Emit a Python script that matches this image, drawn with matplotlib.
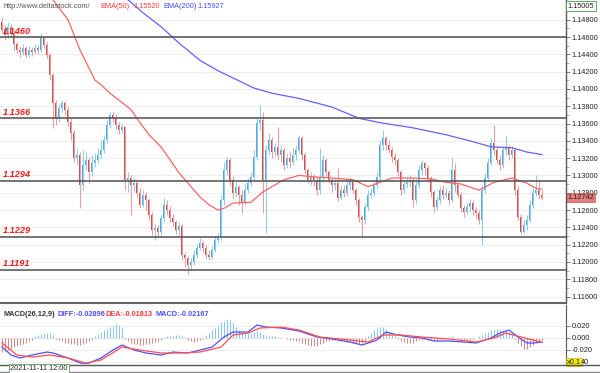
import numpy as np
import matplotlib.pyplot as plt
from matplotlib.lines import Line2D
from matplotlib.ticker import MultipleLocator
from matplotlib.transforms import blended_transform_factory

plt.rcParams['font.family'] = ['Liberation Sans', 'DejaVu Sans']

# EURUSD hourly candles (open = previous close)
first_open = 1.1477
closes = [
    1.1468, 1.1462, 1.1472, 1.1465, 1.1452, 1.1445, 1.1443, 1.1447, 1.1439, 1.1445,
    1.1443, 1.1447, 1.1445, 1.1459, 1.1451, 1.1439, 1.1416, 1.1384, 1.1366, 1.1378,
    1.1384, 1.1376, 1.1362, 1.1349, 1.1320, 1.1324, 1.1289, 1.1312, 1.1318, 1.1304,
    1.1314, 1.1318, 1.1324, 1.1329, 1.1341, 1.1358, 1.1370, 1.1366, 1.1358, 1.1353,
    1.1356, 1.1295, 1.1297, 1.1289, 1.1291, 1.1280, 1.1266, 1.1277, 1.1272, 1.1254,
    1.1237, 1.1239, 1.1235, 1.1251, 1.1266, 1.1260, 1.1251, 1.1246, 1.1237, 1.1242,
    1.1208, 1.1205, 1.1196, 1.1200, 1.1208, 1.1216, 1.1222, 1.1216, 1.1208, 1.1206,
    1.1214, 1.1225, 1.1229, 1.1272, 1.1306, 1.1318, 1.1295, 1.1280, 1.1287, 1.1277,
    1.1268, 1.1283, 1.1291, 1.1298, 1.1321, 1.1361, 1.1364, 1.1295, 1.1329, 1.1341,
    1.1327, 1.1333, 1.1324, 1.1329, 1.1312, 1.1320, 1.1316, 1.1324, 1.1329, 1.1343,
    1.1324, 1.1306, 1.1295, 1.1298, 1.1295, 1.1283, 1.1297, 1.1318, 1.1304, 1.1295,
    1.1289, 1.1291, 1.1274, 1.1283, 1.1280, 1.1289, 1.1292, 1.1283, 1.1272, 1.1252,
    1.1249, 1.1264, 1.1277, 1.1280, 1.1289, 1.1298, 1.1335, 1.1343, 1.1335, 1.1329,
    1.1321, 1.1318, 1.1304, 1.1283, 1.1290, 1.1292, 1.1295, 1.1272, 1.1289, 1.1306,
    1.1314, 1.1309, 1.1297, 1.1281, 1.1264, 1.1272, 1.1283, 1.1277, 1.1280, 1.1272,
    1.1306, 1.1289, 1.1277, 1.1262, 1.1258, 1.1264, 1.1268, 1.1260, 1.1257, 1.1249,
    1.1283, 1.1297, 1.1314, 1.1338, 1.1329, 1.1318, 1.1312, 1.1329, 1.1332, 1.1324,
    1.1329, 1.1283, 1.1252, 1.1235, 1.1243, 1.1249, 1.1266, 1.1280, 1.1283, 1.1277,
    1.12742,
]
highs = [
    1.1483, 1.1474, 1.1477, 1.1475, 1.1468, 1.1454, 1.1450, 1.1452, 1.1450, 1.1450,
    1.1448, 1.1452, 1.1451, 1.1465, 1.1461, 1.1454, 1.1442, 1.1418, 1.1387, 1.1383,
    1.1387, 1.1386, 1.1380, 1.1366, 1.1353, 1.1332, 1.1327, 1.1329, 1.1327, 1.1321,
    1.1324, 1.1326, 1.1332, 1.1341, 1.1347, 1.1364, 1.1373, 1.1373, 1.1371, 1.1362,
    1.1360, 1.1357, 1.1304, 1.1300, 1.1297, 1.1295, 1.1286, 1.1283, 1.1281, 1.1274,
    1.1258, 1.1244, 1.1243, 1.1254, 1.1274, 1.1272, 1.1265, 1.1255, 1.1249, 1.1246,
    1.1244, 1.1212, 1.1207, 1.1205, 1.1214, 1.1221, 1.1228, 1.1225, 1.1220, 1.1214,
    1.1218, 1.1230, 1.1234, 1.1277, 1.1316, 1.1321, 1.1320, 1.1299, 1.1292, 1.1289,
    1.1283, 1.1290, 1.1297, 1.1304, 1.1329, 1.1366, 1.1381, 1.1373, 1.1335, 1.1349,
    1.1344, 1.1338, 1.1356, 1.1335, 1.1332, 1.1326, 1.1327, 1.1332, 1.1335, 1.1347,
    1.1346, 1.1327, 1.1309, 1.1304, 1.1302, 1.1299, 1.1332, 1.1324, 1.1320, 1.1306,
    1.1297, 1.1297, 1.1309, 1.1288, 1.1289, 1.1295, 1.1298, 1.1295, 1.1286, 1.1274,
    1.1254, 1.1268, 1.1283, 1.1286, 1.1295, 1.1304, 1.1341, 1.1353, 1.1346, 1.1341,
    1.1333, 1.1326, 1.1320, 1.1306, 1.1295, 1.1298, 1.1300, 1.1297, 1.1295, 1.1312,
    1.1318, 1.1316, 1.1312, 1.1299, 1.1283, 1.1276, 1.1288, 1.1289, 1.1286, 1.1283,
    1.1320, 1.1314, 1.1292, 1.1281, 1.1266, 1.1268, 1.1273, 1.1272, 1.1264, 1.1260,
    1.1289, 1.1303, 1.1320, 1.1343, 1.1358, 1.1334, 1.1324, 1.1334, 1.1347, 1.1335,
    1.1334, 1.1332, 1.1288, 1.1255, 1.1249, 1.1254, 1.1272, 1.1286, 1.1300, 1.1295,
    1.1283,
]
lows = [
    1.1465, 1.1457, 1.1459, 1.1461, 1.1445, 1.1442, 1.1437, 1.1439, 1.1436, 1.1437,
    1.1438, 1.1440, 1.1440, 1.1443, 1.1447, 1.1436, 1.1410, 1.1355, 1.1358, 1.1362,
    1.1373, 1.1370, 1.1357, 1.1341, 1.1316, 1.1312, 1.1262, 1.1283, 1.1306, 1.1291,
    1.1299, 1.1310, 1.1314, 1.1320, 1.1326, 1.1338, 1.1355, 1.1362, 1.1354, 1.1348,
    1.1349, 1.1283, 1.1281, 1.1254, 1.1281, 1.1275, 1.1262, 1.1264, 1.1260, 1.1249,
    1.1231, 1.1225, 1.1230, 1.1231, 1.1246, 1.1254, 1.1246, 1.1242, 1.1232, 1.1231,
    1.1202, 1.1194, 1.1186, 1.1191, 1.1196, 1.1205, 1.1214, 1.1212, 1.1205, 1.1202,
    1.1203, 1.1212, 1.1222, 1.1225, 1.1266, 1.1300, 1.1289, 1.1274, 1.1275, 1.1266,
    1.1257, 1.1266, 1.1280, 1.1288, 1.1295, 1.1318, 1.1353, 1.1257, 1.1234, 1.1324,
    1.1320, 1.1322, 1.1318, 1.1316, 1.1306, 1.1309, 1.1309, 1.1312, 1.1318, 1.1326,
    1.1318, 1.1303, 1.1291, 1.1289, 1.1288, 1.1277, 1.1279, 1.1292, 1.1299, 1.1291,
    1.1281, 1.1283, 1.1270, 1.1272, 1.1275, 1.1276, 1.1283, 1.1280, 1.1266, 1.1246,
    1.1228, 1.1244, 1.1260, 1.1274, 1.1276, 1.1286, 1.1295, 1.1329, 1.1329, 1.1326,
    1.1316, 1.1312, 1.1299, 1.1277, 1.1280, 1.1286, 1.1287, 1.1264, 1.1267, 1.1286,
    1.1300, 1.1300, 1.1292, 1.1275, 1.1258, 1.1260, 1.1267, 1.1273, 1.1274, 1.1267,
    1.1269, 1.1281, 1.1274, 1.1258, 1.1252, 1.1255, 1.1258, 1.1254, 1.1251, 1.1244,
    1.1220, 1.1280, 1.1295, 1.1312, 1.1324, 1.1313, 1.1306, 1.1309, 1.1324, 1.1318,
    1.1320, 1.1277, 1.1249, 1.1232, 1.1234, 1.1237, 1.1246, 1.1262, 1.1276, 1.1273,
    1.1272,
]

# moving averages, read at a number of candles
ema50_x = [0, 17, 22, 26, 31, 33, 36, 39, 43, 46, 49, 53, 56, 59, 63, 66, 69, 72, 74,
           77, 83, 87, 94, 99, 105, 110, 117, 122, 126, 130, 137, 143, 148, 153, 159,
           164, 170, 175, 178, 180]
ema50_y = [1.1552, 1.1503, 1.1480, 1.1445, 1.1410, 1.1405, 1.1395, 1.1387, 1.1376,
           1.1361, 1.1347, 1.1333, 1.1318, 1.1303, 1.1287, 1.1275, 1.1266, 1.1260,
           1.1262, 1.1268, 1.1269, 1.1281, 1.1295, 1.1300, 1.1298, 1.1297, 1.1295,
           1.1287, 1.1292, 1.1297, 1.1297, 1.1296, 1.1292, 1.1290, 1.1283, 1.1292,
           1.1297, 1.1291, 1.1285, 1.1284]
ema200_x = [0, 42, 47, 53, 59, 66, 72, 78, 84, 90, 99, 110, 119, 126, 137, 148, 157,
            163, 170, 175, 180]
ema200_y = [1.1593, 1.1503, 1.1488, 1.1472, 1.1453, 1.1433, 1.1421, 1.1411, 1.1401,
            1.1395, 1.1389, 1.1379, 1.1366, 1.1361, 1.1355, 1.1347, 1.1339, 1.1333,
            1.1332, 1.1327, 1.1324]

levels = [1.1460, 1.1366, 1.1294, 1.1229, 1.1191]

# MACD panel
diff_x = [0, 3, 6, 10, 15, 17, 22, 27, 29, 33, 37, 40, 44, 48, 53, 57, 62, 66, 70, 74,
          77, 82, 85, 88, 93, 97, 99, 105, 110, 116, 120, 125, 128, 132, 136, 140, 144,
          149, 154, 158, 163, 166, 169, 172, 175, 177, 180]
diff_y = [-0.0148, -0.0284, -0.0333, -0.0284, -0.0235, -0.0251, -0.0333, -0.0431,
          -0.0415, -0.0333, -0.0202, -0.0120, -0.0202, -0.0251, -0.0284, -0.0235,
          -0.0251, -0.0202, -0.0153, 0.0011, 0.0093, 0.0093, 0.0208, 0.0175, 0.0159,
          0.0126, 0.0110, 0.0011, -0.0021, -0.0071, -0.0120, -0.0038, 0.0093, 0.0044,
          0.0011, -0.0005, -0.0054, -0.0054, -0.0071, -0.0087, -0.0005, 0.0077, 0.0126,
          0.0011, -0.0087, -0.0087, -0.0071]
dea_x = [0, 5, 10, 16, 22, 28, 33, 40, 46, 53, 59, 66, 73, 77, 82, 86, 93, 99, 106,
         116, 122, 127, 133, 140, 149, 158, 164, 168, 173, 177, 180]
dea_y = [-0.0087, -0.0284, -0.0317, -0.0284, -0.0333, -0.0415, -0.0366, -0.0153,
         -0.0202, -0.0251, -0.0251, -0.0235, -0.0153, 0.0044, 0.0077, 0.0159, 0.0175,
         0.0126, 0.0011, -0.0038, -0.0071, 0.0044, 0.0044, 0.0011, -0.0021, -0.0071,
         -0.0005, 0.0077, 0.0011, -0.0038, -0.0071]
macd_hist = [
    -0.023, -0.022, -0.020, -0.019, -0.016, -0.014, -0.012, -0.010, -0.008, -0.006,
    -0.004, 0.002, 0.004, 0.006, 0.008, 0.008, 0.007, 0.004, -0.002, -0.004,
    -0.006, -0.008, -0.009, -0.010, -0.011, -0.012, -0.012, -0.011, -0.009, -0.006,
    -0.003, 0.003, 0.006, 0.009, 0.012, 0.015, 0.018, 0.020, 0.022, 0.021,
    0.018, -0.002, -0.005, -0.008, -0.010, -0.011, -0.012, -0.012, -0.011, -0.010,
    -0.009, -0.007, -0.005, -0.003, 0.001, 0.002, 0.003, 0.004, 0.005, 0.004,
    0.003, 0.001, -0.003, -0.005, -0.007, -0.006, -0.004, -0.002, 0.004, 0.008,
    0.012, 0.016, 0.020, 0.025, 0.028, 0.030, 0.029, 0.024, 0.018, 0.012,
    0.009, 0.008, 0.007, 0.008, 0.010, 0.011, 0.009, 0.006, 0.004, 0.003,
    0.002, 0.002, 0.001, 0.001, -0.001, -0.002, -0.003, -0.004, -0.005, -0.006,
    -0.008, -0.010, -0.012, -0.013, -0.014, -0.013, -0.011, -0.008, -0.006, -0.005,
    -0.004, -0.004, -0.005, -0.006, -0.006, -0.007, -0.007, -0.008, -0.009, -0.010,
    -0.009, -0.006, 0.002, 0.007, 0.012, 0.016, 0.018, 0.018, 0.015, 0.010,
    0.005, 0.002, -0.002, -0.005, -0.007, -0.009, -0.009, -0.008, -0.006, -0.004,
    -0.003, -0.002, -0.003, -0.004, -0.004, -0.003, -0.002, -0.002, -0.001, 0.001,
    0.002, -0.001, -0.002, -0.003, -0.004, -0.004, -0.003, -0.002, -0.001, 0.002,
    0.005, 0.008, 0.010, 0.012, 0.013, 0.014, 0.014, 0.013, 0.012, 0.010,
    0.006, -0.002, -0.008, -0.014, -0.018, -0.019, -0.016, -0.012, -0.008, -0.006,
    -0.004,
]

W, H = 600, 373


def box(x0, y0, x1, y1):
    # pixel box -> figure fraction
    return [x0 / W, 1 - y1 / H, (x1 - x0) / W, (y1 - y0) / H]


fig = plt.figure(figsize=(6, 3.73), dpi=100)
ax = fig.add_axes(box(0, 0, 566, 303))
mx = fig.add_axes(box(0, 305, 566, 364))

# candles
c = np.array(closes)
o = np.r_[first_open, c[:-1]]
hi = np.array(highs)
lo = np.array(lows)
idx = np.arange(len(c))
up = c >= o
body = np.maximum(np.abs(c - o), 0.00004)
bot = np.minimum(o, c)
ax.vlines(idx[up], lo[up], hi[up], color='#94cbec', lw=0.8)
ax.vlines(idx[~up], lo[~up], hi[~up], color='#e7a0a0', lw=0.8)
ax.bar(idx[up], body[up], bottom=bot[up], width=0.72, color='#4ea8dc', lw=0)
ax.bar(idx[~up], body[~up], bottom=bot[~up], width=0.72, color='#c64f55', lw=0)

ax.plot(ema50_x, ema50_y, color='#ff6464', lw=0.9)
ax.plot(ema200_x, ema200_y, color='#6262ff', lw=0.9)

for lv in levels:
    ax.axhline(lv, color='#505050', lw=1.1)
    ax.annotate('%.4f' % lv, xy=(0, lv), xycoords=('axes fraction', 'data'),
                xytext=(3, 1.5), textcoords='offset pixels', va='bottom', ha='left',
                color='#f01c1c', fontsize=6.6, fontweight='bold', style='italic')

ax.set_xlim(-0.67, 188)
ax.set_ylim(1.11525, 1.15028)
ax.set_xticks([])
ax.set_yticks(np.arange(1.116, 1.1481, 0.002))
ax.yaxis.set_minor_locator(MultipleLocator(0.001))
ax.yaxis.set_major_formatter(plt.FormatStrFormatter('%.5f'))
ax.yaxis.tick_right()
ax.tick_params(axis='y', which='major', direction='out', length=3, width=0.6,
               color='#666', labelsize=5.3, labelcolor='#222', pad=1)
ax.tick_params(axis='y', which='minor', direction='out', length=2, width=0.5, color='#888')
ax.grid(axis='y', color='#eeeeee', lw=0.8)
ax.set_axisbelow(True)
for s in ['left', 'top']:
    ax.spines[s].set_visible(False)
ax.spines['right'].set_color('#555')
ax.spines['right'].set_linewidth(1)
ax.spines['bottom'].set_color('#666')
ax.spines['bottom'].set_linewidth(1.5)

tr = blended_transform_factory(ax.transAxes, ax.transData)
ax.text(1.003, 1 - 6 / 303, '1.15005', transform=ax.transAxes, fontsize=5.3, color='#222',
        va='center', ha='left',
        bbox=dict(boxstyle='square,pad=0.25', fc='white', ec='#4a9a4a', lw=0.6))
ax.text(1.003, 1.12742, '1.12742', transform=tr, fontsize=5.3, color='#222',
        va='center', ha='left',
        bbox=dict(boxstyle='square,pad=0.12', fc='#e57c7c', ec='#c85858', lw=0.5))

# MACD panel
hcol = ['#8cc6e8' if v > 0 else '#cf8d8d' for v in macd_hist]
mx.vlines(np.arange(len(macd_hist)), 0, macd_hist, colors=hcol, lw=0.8)
mx.plot(diff_x, diff_y, color='#5050ff', lw=0.9)
mx.plot(dea_x, dea_y, color='#ff4f4f', lw=0.9)
mx.set_xlim(-0.67, 188)
mx.set_ylim(-0.0431, 0.0536)
mx.set_xticks([])
mx.set_yticks([0.02, 0.0, -0.02, -0.04])
mx.set_yticklabels(['0.020', '0.000', '-0.020', ''])
mx.yaxis.tick_right()
mx.tick_params(axis='y', direction='out', length=3, width=0.6, color='#666',
               labelsize=5.3, labelcolor='#222', pad=1)
mx.grid(axis='y', color='#eeeeee', lw=0.8)
mx.set_axisbelow(True)
for s in ['left', 'top', 'bottom']:
    mx.spines[s].set_visible(False)
mx.spines['right'].set_color('#555')
mtr = blended_transform_factory(mx.transAxes, mx.transData)
mx.text(1.002, -0.04, 'x0.1', transform=mtr, fontsize=5.3, color='#222', va='center',
        ha='left', bbox=dict(boxstyle='square,pad=0.1', fc='#f4f400', ec='#b0b000', lw=0.4))
mx.annotate('40', xy=(1, -0.04), xycoords=mtr, xytext=(15, 0),
            textcoords='offset pixels', fontsize=5.3, color='#222', va='center', ha='left')


# header texts
def ftext(x, y, s, col, **kw):
    fig.text(x / W, 1 - y / H, s, color=col, fontsize=5.3, va='center', ha='left', **kw)


ftext(4, 6, 'http://www.deltastock.com/', '#555555')
ftext(100, 6, 'EMA(50)', '#ff3a3a')
ftext(133, 6, '1.15520', '#ff3a3a')
ftext(163, 6, 'EMA(200)', '#4b4bff')
ftext(197, 6, '1.15927', '#4b4bff')
ftext(3, 315, 'MACD(26,12,9)', '#333333', fontweight='bold')
ftext(57, 315, 'DIFF:-0.02896', '#4f4fff', fontweight='bold')
ftext(106, 315, 'DEA:-0.01813', '#ff3a3a', fontweight='bold')
ftext(156, 315, 'MACD:-0.02167', '#4f4fff', fontweight='bold')

# time strip at the bottom
fig.add_artist(Line2D([0, 1], [1 - 364.5 / H] * 2, color='#555', lw=1))
fig.add_artist(Line2D([0, 1], [1 - 372 / H] * 2, color='#888', lw=1))
ftext(10, 368.5, '2021-11-11 12:00', '#222222',
      bbox=dict(boxstyle='square,pad=0.2', fc='white', ec='#5aa05a', lw=0.6))

fig.savefig('out.png', dpi=100)
